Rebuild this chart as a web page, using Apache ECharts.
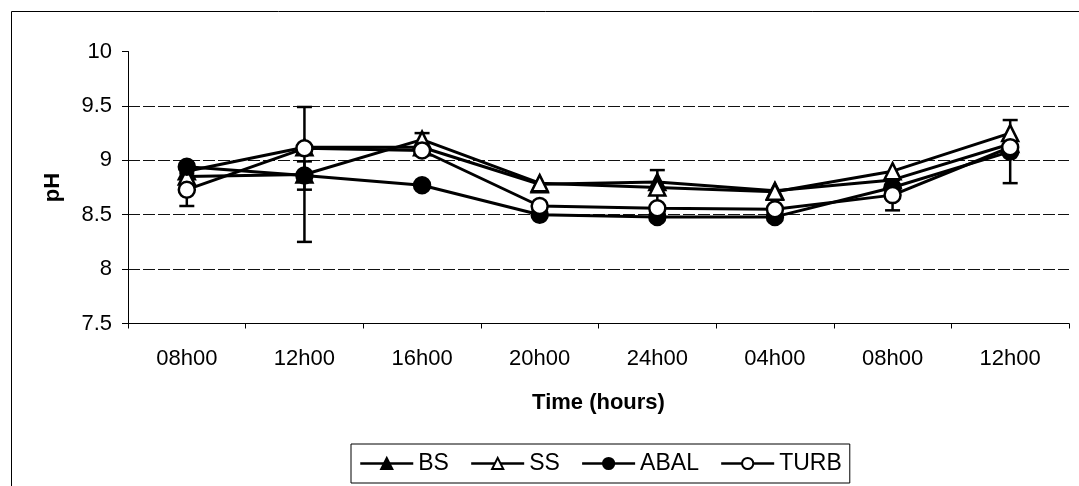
<!DOCTYPE html>
<html>
<head>
<meta charset="utf-8">
<script src="https://cdn.jsdelivr.net/npm/echarts@6/dist/echarts.min.js"></script>
<style>
html,body{margin:0;padding:0;background:#fff;}
#c{width:1079px;height:486px;}
</style>
</head>
<body>
<div id="c"></div>
<script>
const categories = ['08h00','12h00','16h00','20h00','24h00','04h00','08h00','12h00'];
const yTicks = [7.5, 8, 8.5, 9, 9.5, 10];
const BS   = [8.90, 9.12, 9.12, 8.78, 8.80, 8.72, 8.82, 9.15];
const SS   = [8.85, 8.87, 9.19, 8.79, 8.75, 8.71, 8.90, 9.25];
const ABAL = [8.94, 8.86, 8.77, 8.50, 8.48, 8.48, 8.75, 9.08];
const TURB = [8.73, 9.11, 9.09, 8.58, 8.56, 8.55, 8.68, 9.12];
const errSS   = [null, 0.62, 0.06, null, 0.16, null, null, null];
const errABAL = [null, 0.13, null, null, null, null, null, 0.29];
const errTURB = [0.15, null, null, null, null, null, 0.14, null];

const FONT = 'Liberation Sans, Arial, sans-serif';

function errData(vals, errs) {
  const out = [];
  vals.forEach((v, i) => { if (errs[i] != null) out.push([i, v - errs[i], v + errs[i]]); });
  return out;
}
const errAll = [].concat(errData(SS, errSS), errData(ABAL, errABAL), errData(TURB, errTURB));

function renderErr(params, api) {
  const x = api.value(0);
  const lo = api.coord([x, api.value(1)]);
  const hi = api.coord([x, api.value(2)]);
  const w = 7.5;
  const st = {stroke: '#000', lineWidth: 2.5};
  return {
    type: 'group',
    children: [
      {type: 'line', shape: {x1: lo[0], y1: lo[1], x2: hi[0], y2: hi[1]}, style: st},
      {type: 'line', shape: {x1: lo[0]-w, y1: lo[1], x2: lo[0]+w, y2: lo[1]}, style: st},
      {type: 'line', shape: {x1: hi[0]-w, y1: hi[1], x2: hi[0]+w, y2: hi[1]}, style: st}
    ]
  };
}

function lineSeries(name, data, symbol, filled) {
  return {
    name: name, type: 'line', data: data, symbol: symbol, symbolSize: 16,
    z: 3,
    lineStyle: {color: '#000', width: 3},
    itemStyle: {color: filled ? '#000' : '#fff', borderColor: '#000', borderWidth: 2.5},
    emphasis: {disabled: true}
  };
}

const chart = echarts.init(document.getElementById('c'), null, {renderer: 'canvas'});
chart.setOption({
  animation: false,
  backgroundColor: '#fff',
  textStyle: {fontFamily: FONT},
  graphic: [{
    type: 'rect', left: 9, top: 9, shape: {width: 1100, height: 520},
    style: {fill: 'none', stroke: '#000', lineWidth: 1}, silent: true, z: -10
  }],
  grid: {left: 128, right: 10, top: 51.5, bottom: 162.5},
  legend: {
    left: 351, top: 444,
    data: ['BS','SS','ABAL','TURB'],
    borderColor: '#000', borderWidth: 1,
    padding: [8, 8, 8, 8],
    itemWidth: 53, itemHeight: 14, itemGap: 21,
    textStyle: {fontSize: 23, color: '#000', fontFamily: FONT},
    itemStyle: {borderWidth: 2},
    lineStyle: {width: 2.5}
  },
  xAxis: {
    type: 'category', data: categories, boundaryGap: true,
    axisLine: {show: true, lineStyle: {color: '#000', width: 1}},
    axisTick: {show: true, length: 5, lineStyle: {color: '#000'}},
    axisLabel: {fontSize: 22, color: '#000', margin: 24, fontFamily: FONT},
    name: 'Time (hours)', nameLocation: 'middle', nameGap: 68,
    nameTextStyle: {fontSize: 22, fontWeight: 'bold', color: '#000', fontFamily: FONT}
  },
  yAxis: {
    type: 'value', min: 7.5, max: 10, interval: 0.5,
    axisLine: {show: true, lineStyle: {color: '#000', width: 1}},
    axisTick: {show: true, length: 6, lineStyle: {color: '#000'}},
    axisLabel: {fontSize: 22, color: '#000', margin: 16, fontFamily: FONT,
      formatter: v => yTicks.includes(v) ? String(v) : ''},
    splitLine: {show: true, lineStyle: {color: ['#111','#111','#111','#111','#111','rgba(0,0,0,0)'], width: 1, type: [12, 3]}},
    name: 'pH', nameLocation: 'middle', nameGap: 64,
    nameTextStyle: {fontSize: 22, fontWeight: 'bold', color: '#000', fontFamily: FONT}
  },
  series: [
    {type: 'custom', name: 'err', data: errAll, renderItem: renderErr, z: 2, silent: true},
    lineSeries('BS', BS, 'triangle', true),
    lineSeries('SS', SS, 'triangle', false),
    lineSeries('ABAL', ABAL, 'circle', true),
    lineSeries('TURB', TURB, 'circle', false)
  ]
});
</script>
</body>
</html>
